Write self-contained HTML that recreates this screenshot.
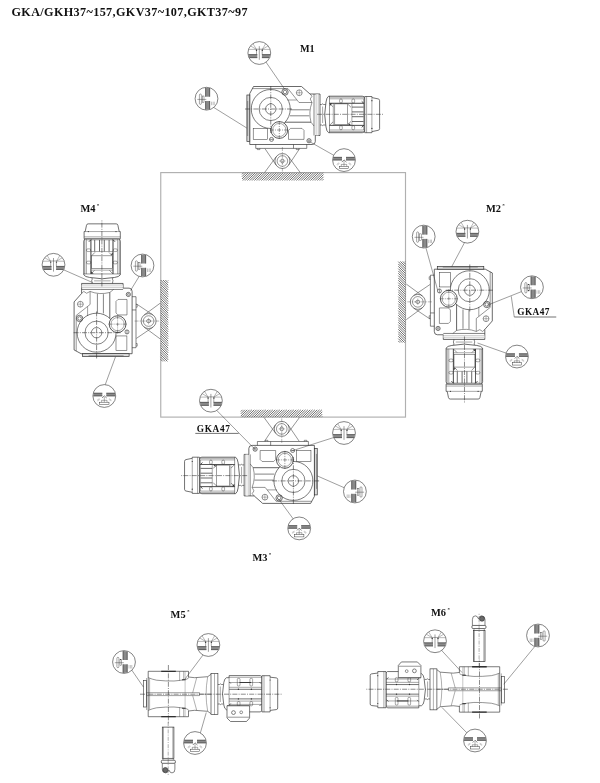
<!DOCTYPE html>
<html><head><meta charset="utf-8"><title>Mounting positions</title>
<style>
html,body{margin:0;padding:0;background:#fff;}
body{width:600px;height:783px;overflow:hidden;font-family:"Liberation Serif",serif;}
svg{display:block;filter:grayscale(1);}
</style></head>
<body>
<svg width="600" height="783" viewBox="0 0 600 783">
<rect width="600" height="783" fill="#fff"/>
<defs>

<g id="gm" fill="none" stroke="#303030" stroke-width="0.51" stroke-linecap="butt">
  <!-- housing -->
  <path d="M249.75 93.5L253.5 86.5H301.5L310 94H320V135.5H315.3V141.5Q315.3 144.5 312 144.5H249.75Z" stroke-width="0.722" fill="#fff"/>
  <rect x="246.9" y="95" width="2.85" height="46.5" stroke-width="0.68" fill="#ddd"/>
  <path d="M247.7 101V136" stroke-width="0.425"/>
  <path d="M252.5 88.6H288L299 102.5H312"/>
  <path d="M287.5 100H296.8" stroke-width="0.468"/>
  <rect x="316" y="94" width="2.5" height="41.5" fill="#f0f0f0" stroke="#8a8a8a" stroke-width="0.34"/>
  <path d="M314 94V135.5" stroke-width="0.595"/>
  <!-- neck lines -->
  <path d="M290.5 109.8H309.7M290 115.8H309.3" stroke-width="0.595"/>
  <path d="M285 122.2H311" stroke-width="0.765"/>
  <path d="M310 94L312 96.2L310.2 99L312 102.5Q308.3 112 311 122.2L314 126" stroke-width="0.51"/>
  <!-- main circles -->
  <circle cx="270.75" cy="109" r="19.5" stroke-width="0.637"/>
  <circle cx="270.75" cy="109" r="11.6" stroke-width="0.595"/>
  <path d="M270.75 103.3Q272.3 103.9 274.4 105.3A5.2 5.2 0 1 1 267.1 105.3Q269.2 103.9 270.75 103.3Z" stroke-width="0.595"/>
  <!-- windows -->
  <rect x="253.2" y="128.4" width="14.3" height="10.9" stroke-width="0.51"/>
  <path d="M290.5 128.4H302L304 130.4V139.4H288.5V130.4Z" stroke-width="0.51"/>
  <!-- small circle -->
  <circle cx="279.3" cy="130" r="8.4" fill="#fff" stroke-width="0.807"/>
  <circle cx="279.3" cy="130" r="6.6" stroke-width="0.425"/>
  <!-- plugs -->
  <circle cx="285" cy="92" r="3.2" stroke-width="0.68"/><circle cx="285" cy="92" r="1.8" stroke-width="0.595"/>
  <circle cx="299.25" cy="92.75" r="2.9" stroke-width="0.51"/><path d="M296.3 92.75H302.2M299.25 89.8V95.7" stroke-width="0.34"/>
  <circle cx="309" cy="140.75" r="2.1" stroke-width="0.68"/><circle cx="309" cy="140.75" r="0.9" stroke-width="0.51"/>
  <circle cx="271.5" cy="139.4" r="2" stroke-width="0.595"/><path d="M269.5 139.4H273.5" stroke-width="0.51"/>
  <!-- centre lines -->
  <path d="M245 109H292M270.75 86V133" stroke-width="0.578" stroke-dasharray="5 1.2 1 1.2"/>
  <path d="M270 130H289M279.3 121V139" stroke-width="0.468" stroke-dasharray="4 1 1 1"/>
  <!-- base plate -->
  <path d="M255.75 144.5V148.4H306.75V144.5M293.5 144.5V148.4" stroke-width="0.595"/>
  <path d="M257.3 148.4v1.2h2.6v-1.2M296.3 148.4v1.2h2.6v-1.2" stroke-width="0.51"/>
  <!-- torque arm -->
  <path d="M265.00 148.70L276.19 165.21M299.60 148.70L288.64 165.16M264.60 172.50L276.36 156.55M300.20 172.50L288.44 156.55" stroke-width="0.51"/>
  <circle cx="282.4" cy="161" r="7.5" stroke-width="0.595"/>
  <circle cx="282.4" cy="161" r="5.3" fill="#fff" stroke-width="0.51"/>
  <ellipse cx="282.4" cy="161" rx="1.6" ry="2.1" stroke-width="0.51"/>
  <path d="M282.4 147V171.5" stroke-width="0.34" stroke-dasharray="4 1 1 1"/>
  <path d="M279 161H285.5" stroke-width="0.297"/>
  <!-- adapter between gearbox & motor -->
  <path d="M320 104.5h1.6q0.8 -1.2 2 0h2.6M320 125h1.6q0.8 1.2 2 0h2.6" stroke-width="0.595"/>
  <path d="M322.6 106.5V123" stroke-width="0.425"/>
  <!-- motor body -->
  <path d="M328.6 96.2H362.3Q364.9 96.2 364.9 99V129.9Q364.9 132.7 362.3 132.7H328.6Q326.6 131.5 326 127A60 60 0 0 1 326 102Q326.6 97.4 328.6 96.2Z" fill="#fff" stroke-width="0.722"/>
  <path d="M329.5 97.2H364M329.5 98.8H364.7M329.5 103.3H363.6M329.5 125.4H363.6M329.5 130H364.7M329.5 131.6H364" stroke-width="0.425"/>
  <path d="M329.5 96V132.7" stroke-width="0.51"/>
  <path d="M329.5 103.3H363.6M329.5 125.4H363.6" stroke-width="0.68"/>
  <rect x="334.8" y="103.9" width="12.8" height="20.9" stroke-width="0.468"/>
  <path d="M333.3 103.3V125.4M351.9 103.3V125.4M363.6 98.8V130" stroke-width="0.425"/>
  <path d="M352 107.1H363.5M352 111.9H363.5M352 116.7H363.5M352 121.5H363.5" stroke-width="0.722"/>
  <path d="M329.7 103.5l3.4 3.4M329.7 125.2l3.4 -3.4M347.7 104l3.3 3.3M347.7 124.7l3.3 -3.3" stroke-width="0.51"/>
  <path d="M330 103.6l2 0l-2 2zM348.8 123.5l1.8 1.5l-1.8 0z" fill="#303030" stroke-width="0.34"/>
  <rect x="339.6" y="98.9" width="2.7" height="4.2" rx="1.3" stroke-width="0.425"/>
  <rect x="351.9" y="98.9" width="2.7" height="4.2" rx="1.3" stroke-width="0.425"/>
  <rect x="339.6" y="125.6" width="2.7" height="4.2" rx="1.3" stroke-width="0.425"/>
  <rect x="351.9" y="125.6" width="2.7" height="4.2" rx="1.3" stroke-width="0.425"/>
  <path d="M361.7 101.3l2.3 2.3M361.7 127.4l2.3 -2.3" stroke-width="0.85"/>
  <!-- fan cover -->
  <path d="M364.7 96.5H371.9V97.6L378.2 98.9Q379.6 99.2 379.6 100.6V128.6Q379.6 130 378.2 130.3L371.9 131.6V132.7H364.7Z" fill="#fff" stroke-width="0.68"/>
  <path d="M371.9 97.6V131.6M366.6 96.5V132.7" stroke-width="0.425"/>
  <circle cx="371.9" cy="100.7" r="0.6" fill="#303030" stroke="none"/><circle cx="371.9" cy="128.4" r="0.6" fill="#303030" stroke="none"/>
  <path d="M317 114.3H384" stroke-width="0.552" stroke-dasharray="5 1.2 1 1.2"/>
</g>


<clipPath id="cc"><circle r="11.1"/></clipPath>
<g id="brt" fill="none" stroke="#303030" stroke-width="0.425">
  <circle r="11.4" fill="#fff" stroke-width="0.595"/>
  <g clip-path="url(#cc)">
    <rect x="-11.2" y="1.3" width="9.2" height="3.7" fill="#8a8a8a" stroke="none"/><path d="M-11.2 1.6h9.2M-11.2 4.7h9.2" stroke="#3a3a3a" stroke-width="0.595"/><rect x="2.6" y="1.3" width="9" height="3.7" fill="#8a8a8a" stroke="none"/><path d="M2.6 1.6h9M2.6 4.7h9" stroke="#3a3a3a" stroke-width="0.595"/>
    <path d="M-10.8 -3.6H-2.8M2.9 -3.6H10.8M-2.8 -3.6L-9.5 -7.5M-2.8 -3.6L-6.5 -9.5M2.9 -3.6L9.5 -7.5M2.9 -3.6L6.5 -9.5" stroke-width="0.383" stroke="#444"/>
    <path d="M-2.8 -2.8V1.3M2.9 -2.8V1.3M-2.8 -3.8H2.9" stroke-width="0.425"/>
    <circle cx="-2.8" cy="-2.7" r="0.7" fill="#303030" stroke="none"/><circle cx="3" cy="-2.7" r="0.7" fill="#303030" stroke="none"/>
    <path d="M0 -6.8V6.8" stroke-width="0.468"/>
  </g>
</g>
<g id="lvl" fill="none" stroke="#303030" stroke-width="0.425">
  <circle r="11.4" fill="#fff" stroke-width="0.595"/>
  <g clip-path="url(#cc)">
    <rect x="-1.2" y="-11.2" width="4.7" height="9.2" fill="#8a8a8a" stroke="none"/><path d="M-0.8999999999999999 -11.2v9.2M3.2 -11.2v9.2" stroke="#3a3a3a" stroke-width="0.595"/><rect x="-1.2" y="2.3" width="4.7" height="9" fill="#8a8a8a" stroke="none"/><path d="M-0.8999999999999999 2.3v9M3.2 2.3v9" stroke="#3a3a3a" stroke-width="0.595"/>
    <rect x="-7.1" y="-4.7" width="2" height="10.4" rx="1" stroke-width="0.425"/>
    <path d="M-9.2 0.7H-0.2" stroke-width="0.425"/>
    <rect x="-4" y="-2.7" width="1.5" height="6.4" stroke-width="0.383"/>
    <path d="M5 3V6.5M6.6 3V6.5M7.8 3V6.5" stroke-width="0.383" stroke="#666"/>
  </g>
</g>
<g id="drn" fill="none" stroke="#303030" stroke-width="0.425">
  <circle r="11.4" fill="#fff" stroke-width="0.595"/>
  <g clip-path="url(#cc)">
    <rect x="-11.2" y="-3.1" width="9.2" height="3.3" fill="#8a8a8a" stroke="none"/><path d="M-11.2 -2.8000000000000003h9.2M-11.2 -0.10000000000000026h9.2" stroke="#3a3a3a" stroke-width="0.595"/><rect x="2" y="-3.1" width="9.2" height="3.3" fill="#8a8a8a" stroke="none"/><path d="M2 -2.8000000000000003h9.2M2 -0.10000000000000026h9.2" stroke="#3a3a3a" stroke-width="0.595"/>
    <path d="M-2.2 2L0 -0.2L2.4 2" stroke-width="0.595"/>
    <path d="M-2.7 4.2V6.2M2.7 4.2V6.2M-2.7 4.3H2.7M0 1V6.2" stroke-width="0.383"/>
    <rect x="-4.7" y="6.2" width="9.4" height="2.3" stroke-width="0.468"/>
    <path d="M-7.3 4.3L-4.9 2.6M-6.8 5L-4.5 3.4M7.3 4.3L4.9 2.6M6.8 5L4.5 3.4" stroke-width="0.34" stroke="#666"/>
  </g>
</g>


<g id="gm5" fill="none" stroke="#303030" stroke-width="0.51">
  <!-- gearbox body -->
  <path d="M188.5 677.5V671.3H148.2V716.7H188.5V710.5" fill="#fff" stroke-width="0.637"/>
  <rect x="143.4" y="680.5" width="3.2" height="26.5" stroke-width="0.595"/>
  <path d="M146.6 678V710" stroke-width="0.425"/>
  <path d="M148.2 677.6Q152 679.3 156.5 680.2Q166 681.2 174 681Q181 680.5 186.5 679.2L188.5 678.2M148.2 710.4Q152 708.7 156.5 707.8Q166 706.8 174 707Q181 707.5 186.5 708.8L188.5 709.8" stroke-width="0.51"/>
  <path d="M149.6 678.4V709.6" stroke-width="0.383"/>
  <path d="M146.6 692.7H199.5V695.6H146.6" stroke-width="0.468"/>
  <path d="M199.5 694.2H211" stroke-width="0.425"/>
  <path d="M161.2 671.3H175.8M161.2 716.7H175.8" stroke-width="1.27"/>
  <path d="M179.6 671.3V680.6M179.6 716.7V707.4M183.7 671.3V680M183.7 716.7V708" stroke-width="0.383"/>
  <path d="M185.1 671.3V716.7" stroke-width="0.425" stroke="#777"/>
  <path d="M182 679.8h3.6M182 708.2h3.6" stroke-width="0.935"/>
  <!-- neck -->
  <path d="M188.5 677L194.7 677.7L207.7 676.7L211 674.3M188.5 711L194.7 710.3L207.7 711.3L211 713.7" stroke-width="0.595"/>
  <path d="M196.7 677.7L192.7 692.7M192.7 695.6L196.7 710.3" stroke-width="0.383"/>
  <path d="M207.7 676.7Q204.5 694.2 207.7 711.3" stroke-width="0.383"/>
  <!-- flange -->
  <rect x="211" y="673.6" width="6.9" height="41" fill="#fff" stroke-width="0.637"/>
  <path d="M214.5 673.6V714.6" stroke-width="0.383"/>
  <!-- adapter -->
  <path d="M217.9 684.5h1.6q0.8 -1.2 2 0h1.8M217.9 704h1.6q0.8 1.2 2 0h1.8" stroke-width="0.595"/>
  <path d="M220.3 686.5V702" stroke-width="0.425"/>
  <!-- motor -->
  <path d="M226.5 677.7H229.1V675.6H260.5L261.9 677V710.5L260.5 711.9H229.1V709.8H226.5Q224.4 709 223.8 705A50 50 0 0 1 223.8 682.5Q224.4 678.5 226.5 677.7Z" fill="#fff" stroke-width="0.68"/>
  <path d="M229.1 677.7V709.8" stroke-width="0.468"/>
  <path d="M229.1 677.3H261.9M229.1 682.5H261.9M229.1 687.3H261.9M229.1 701.1H261.9M229.1 704.4H261.9" stroke-width="0.425"/>
  <path d="M229.1 689.3H261.9M229.1 698.9H261.9" stroke-width="0.68"/>
  <path d="M239.5 682.5H251.2" stroke-width="0.935"/>
  <rect x="237.3" y="678.4" width="2.7" height="7.6" rx="1" stroke-width="0.425"/>
  <rect x="249.9" y="678.4" width="2.7" height="7.6" rx="1" stroke-width="0.425"/>
  <rect x="237.3" y="701.6" width="2.7" height="4.2" rx="1" stroke-width="0.425"/>
  <rect x="249.9" y="701.6" width="2.7" height="4.2" rx="1" stroke-width="0.425"/>
  <circle cx="238.4" cy="689.3" r="0.7" fill="#303030" stroke="none"/><circle cx="251.4" cy="689.3" r="0.7" fill="#303030" stroke="none"/>
  <circle cx="238.4" cy="698.9" r="0.7" fill="#303030" stroke="none"/><circle cx="251.4" cy="698.9" r="0.7" fill="#303030" stroke="none"/>
  <path d="M229.3 682l1.5 1.5M229.3 705l1.5 -1.5M259.5 682l1.8 1.8M259.5 706l1.8 -1.8" stroke-width="0.68"/>
  <!-- terminal box -->
  <path d="M227 705.7V718L230.5 721.5H246.5L249.6 718V705.7Z" fill="#fff" stroke-width="0.637"/>
  <path d="M227 705.7H249.6" stroke-width="0.425"/>
  <path d="M227.5 717.2H249.2" stroke-width="0.765" stroke="#777"/>
  <circle cx="233.5" cy="712.6" r="1.9" stroke-width="0.595"/><circle cx="241.2" cy="712.3" r="1.4" stroke-width="0.51"/>
  <!-- fan cover -->
  <path d="M261.9 675.7H270.1V677.2L276.3 677.9Q277.7 678.1 277.7 679.5V708Q277.7 709.4 276.3 709.6L270.1 710.4V711.9H261.9Z" fill="#fff" stroke-width="0.68"/>
  <path d="M270.1 677.2V710.4M264 675.7V711.9" stroke-width="0.425"/>
  <circle cx="270.1" cy="680" r="0.55" fill="#303030" stroke="none"/><circle cx="270.1" cy="707.8" r="0.55" fill="#303030" stroke="none"/>
  <!-- centre lines -->
  <path d="M140 694.2H282" stroke-width="0.552" stroke-dasharray="5 1.2 1 1.2"/>
  <path d="M168.4 665V724" stroke-width="0.552" stroke-dasharray="5 1.2 1 1.2"/>
</g>


<g id="shaft" fill="none" stroke="#303030" stroke-width="0.51">
  <rect x="162.3" y="727.1" width="11.6" height="31.2" fill="#fff" stroke-width="0.68"/>
  <path d="M163.5 727.1V758.3M172.8 727.1V758.3" stroke-width="0.383"/>
  <path d="M163 758.3V760.2M173.3 758.3V760.2" stroke-width="0.425"/>
  <rect x="161.3" y="760.2" width="14.1" height="3.1" rx="1.2" fill="#fff" stroke-width="0.722"/>
  <path d="M162.3 763.3V769.2Q162.4 772.9 165.6 772.9Q168 772.9 168.9 770Q169.8 772.9 172 772.9Q174.9 772.9 174.9 769.2V763.3" stroke-width="0.595"/>
  <circle cx="165.3" cy="770" r="2.5" fill="#6a6a6a" stroke-width="0.595"/>
  <path d="M168.2 722V775" stroke-width="0.383" stroke-dasharray="4 1.2 1 1.2"/>
</g>

</defs>
<rect x="160.75" y="172.6" width="244.75" height="244.5" fill="none" stroke="#b0b0b0" style="stroke-width:1.15"/>
<path d="M242.00 174.33L243.73 172.60M242.00 176.67L246.07 172.60M242.00 179.00L248.40 172.60M242.83 180.50L250.73 172.60M245.17 180.50L253.07 172.60M247.50 180.50L255.40 172.60M249.83 180.50L257.73 172.60M252.16 180.50L260.06 172.60M254.50 180.50L262.40 172.60M256.83 180.50L264.73 172.60M259.16 180.50L267.06 172.60M261.50 180.50L269.40 172.60M263.83 180.50L271.73 172.60M266.16 180.50L274.06 172.60M268.50 180.50L276.40 172.60M270.83 180.50L278.73 172.60M273.16 180.50L281.06 172.60M275.49 180.50L283.39 172.60M277.83 180.50L285.73 172.60M280.16 180.50L288.06 172.60M282.49 180.50L290.39 172.60M284.83 180.50L292.73 172.60M287.16 180.50L295.06 172.60M289.49 180.50L297.39 172.60M291.83 180.50L299.73 172.60M294.16 180.50L302.06 172.60M296.49 180.50L304.39 172.60M298.82 180.50L306.72 172.60M301.16 180.50L309.06 172.60M303.49 180.50L311.39 172.60M305.82 180.50L313.72 172.60M308.16 180.50L316.06 172.60M310.49 180.50L318.39 172.60M312.82 180.50L320.72 172.60M315.16 180.50L323.06 172.60M317.49 180.50L323.50 174.49M319.82 180.50L323.50 176.82M322.15 180.50L323.50 179.15" stroke="#484848" style="stroke-width:0.78" fill="none"/>
<path d="M160.60 359.27L162.73 361.40M160.60 356.93L165.07 361.40M160.60 354.60L167.40 361.40M160.60 352.27L168.20 359.87M160.60 349.94L168.20 357.53M160.60 347.60L168.20 355.20M160.60 345.27L168.20 352.87M160.60 342.94L168.20 350.54M160.60 340.60L168.20 348.20M160.60 338.27L168.20 345.87M160.60 335.94L168.20 343.54M160.60 333.60L168.20 341.20M160.60 331.27L168.20 338.87M160.60 328.94L168.20 336.54M160.60 326.61L168.20 334.21M160.60 324.27L168.20 331.87M160.60 321.94L168.20 329.54M160.60 319.61L168.20 327.21M160.60 317.27L168.20 324.87M160.60 314.94L168.20 322.54M160.60 312.61L168.20 320.21M160.60 310.27L168.20 317.87M160.60 307.94L168.20 315.54M160.60 305.61L168.20 313.21M160.60 303.28L168.20 310.88M160.60 300.94L168.20 308.54M160.60 298.61L168.20 306.21M160.60 296.28L168.20 303.88M160.60 293.94L168.20 301.54M160.60 291.61L168.20 299.21M160.60 289.28L168.20 296.88M160.60 286.94L168.20 294.54M160.60 284.61L168.20 292.21M160.60 282.28L168.20 289.88M160.65 280.00L168.20 287.55M162.99 280.00L168.20 285.21M165.32 280.00L168.20 282.88M167.65 280.00L168.20 280.55" stroke="#484848" style="stroke-width:0.78" fill="none"/>
<path d="M398.30 340.97L399.93 342.60M398.30 338.63L402.27 342.60M398.30 336.30L404.60 342.60M398.30 333.97L405.50 341.17M398.30 331.63L405.50 338.84M398.30 329.30L405.50 336.50M398.30 326.97L405.50 334.17M398.30 324.64L405.50 331.84M398.30 322.30L405.50 329.50M398.30 319.97L405.50 327.17M398.30 317.64L405.50 324.84M398.30 315.30L405.50 322.50M398.30 312.97L405.50 320.17M398.30 310.64L405.50 317.84M398.30 308.31L405.50 315.50M398.30 305.97L405.50 313.17M398.30 303.64L405.50 310.84M398.30 301.31L405.50 308.51M398.30 298.97L405.50 306.17M398.30 296.64L405.50 303.84M398.30 294.31L405.50 301.51M398.30 291.97L405.50 299.17M398.30 289.64L405.50 296.84M398.30 287.31L405.50 294.51M398.30 284.98L405.50 292.18M398.30 282.64L405.50 289.84M398.30 280.31L405.50 287.51M398.30 277.98L405.50 285.18M398.30 275.64L405.50 282.84M398.30 273.31L405.50 280.51M398.30 270.98L405.50 278.18M398.30 268.64L405.50 275.84M398.30 266.31L405.50 273.51M398.30 263.98L405.50 271.18M398.30 261.65L405.50 268.85M400.39 261.40L405.50 266.51M402.72 261.40L405.50 264.18M405.05 261.40L405.50 261.85" stroke="#484848" style="stroke-width:0.78" fill="none"/>
<path d="M240.80 411.53L242.53 409.80M240.80 413.87L244.87 409.80M240.80 416.20L247.20 409.80M242.13 417.20L249.53 409.80M244.46 417.20L251.86 409.80M246.80 417.20L254.20 409.80M249.13 417.20L256.53 409.80M251.46 417.20L258.86 409.80M253.80 417.20L261.20 409.80M256.13 417.20L263.53 409.80M258.46 417.20L265.86 409.80M260.80 417.20L268.20 409.80M263.13 417.20L270.53 409.80M265.46 417.20L272.86 409.80M267.79 417.20L275.19 409.80M270.13 417.20L277.53 409.80M272.46 417.20L279.86 409.80M274.79 417.20L282.19 409.80M277.13 417.20L284.53 409.80M279.46 417.20L286.86 409.80M281.79 417.20L289.19 409.80M284.13 417.20L291.53 409.80M286.46 417.20L293.86 409.80M288.79 417.20L296.19 409.80M291.12 417.20L298.52 409.80M293.46 417.20L300.86 409.80M295.79 417.20L303.19 409.80M298.12 417.20L305.52 409.80M300.46 417.20L307.86 409.80M302.79 417.20L310.19 409.80M305.12 417.20L312.52 409.80M307.46 417.20L314.86 409.80M309.79 417.20L317.19 409.80M312.12 417.20L319.52 409.80M314.45 417.20L321.85 409.80M316.79 417.20L322.20 411.79M319.12 417.20L322.20 414.12M321.45 417.20L322.20 416.45" stroke="#484848" style="stroke-width:0.78" fill="none"/>
<use href="#gm"/>
<use href="#gm" transform="translate(96.6 332.7) rotate(-90) translate(-270.75 -109)"/>
<use href="#gm" transform="translate(469.8 290.2) rotate(90) translate(-270.75 -109)"/>
<use href="#gm" transform="translate(293.4 480.9) rotate(180) translate(-270.75 -109)"/>
<use href="#gm5"/>
<use href="#shaft"/>
<use href="#shaft" transform="translate(-0.6 5.3) translate(479.5 689.25) rotate(180) translate(-168.4 -694.2)"/>
<use href="#gm5" transform="translate(479.5 689.25) rotate(180) translate(-168.4 -694.2)"/>
<path d="M264.4 59.8L284.5 89" stroke="#303030" stroke-width="0.468" fill="none"/>
<path d="M213 107L246.75 128" stroke="#303030" stroke-width="0.468" fill="none"/>
<path d="M335 156L310.8 142.3" stroke="#303030" stroke-width="0.468" fill="none"/>
<path d="M62 269.1L92.5 282.5" stroke="#303030" stroke-width="0.468" fill="none"/>
<path d="M140 275L130.5 290.5" stroke="#303030" stroke-width="0.468" fill="none"/>
<path d="M105 385.3L115.5 356.8" stroke="#303030" stroke-width="0.468" fill="none"/>
<path d="M425.7 247L437.7 290.3" stroke="#303030" stroke-width="0.468" fill="none"/>
<path d="M465 241.7L451.7 266.7" stroke="#303030" stroke-width="0.468" fill="none"/>
<path d="M523 291L487.25 305.25" stroke="#303030" stroke-width="0.468" fill="none"/>
<path d="M508 353.8L477.5 343" stroke="#303030" stroke-width="0.468" fill="none"/>
<path d="M216.5 410.2L254.7 449" stroke="#303030" stroke-width="0.468" fill="none"/>
<path d="M335 437.1L291.9 450.9" stroke="#303030" stroke-width="0.468" fill="none"/>
<path d="M346 488.5L317.25 475.9" stroke="#303030" stroke-width="0.468" fill="none"/>
<path d="M293.5 519.3L278.4 498.65" stroke="#303030" stroke-width="0.468" fill="none"/>
<path d="M131 669L143.4 687" stroke="#303030" stroke-width="0.468" fill="none"/>
<path d="M204 653.7L185 679" stroke="#303030" stroke-width="0.468" fill="none"/>
<path d="M200 734.2L206.25 712.5" stroke="#303030" stroke-width="0.468" fill="none"/>
<path d="M440.3 649L462 672.5" stroke="#303030" stroke-width="0.468" fill="none"/>
<path d="M536 645L503.75 684.25" stroke="#303030" stroke-width="0.468" fill="none"/>
<path d="M468 734L442 707.5" stroke="#303030" stroke-width="0.468" fill="none"/>
<use href="#brt" transform="translate(259.3 53)"/>
<use href="#lvl" transform="translate(206.5 98.7)"/>
<use href="#drn" transform="translate(344 160.1)"/>
<use href="#brt" transform="translate(53.5 264.8)"/>
<use href="#lvl" transform="translate(142.5 265.5)"/>
<use href="#drn" transform="translate(104.3 396)"/>
<use href="#lvl" transform="translate(423.7 236.6)"/>
<use href="#brt" transform="translate(467.4 231.7)"/>
<use href="#lvl" transform="translate(531.95 287.25)"/>
<use href="#drn" transform="translate(516.95 356.55)"/>
<use href="#brt" transform="translate(210.9 400.7)"/>
<use href="#brt" transform="translate(344 433)"/>
<use href="#lvl" transform="translate(354.9 491.5) scale(-1 1)"/>
<use href="#drn" transform="translate(299.2 528.4)"/>
<use href="#lvl" transform="translate(124 662)"/>
<use href="#brt" transform="translate(208.4 645)"/>
<use href="#drn" transform="translate(195 743)"/>
<use href="#brt" transform="translate(435 641.25)"/>
<use href="#lvl" transform="translate(538 635.5) scale(-1 1)"/>
<use href="#drn" transform="translate(475 740.5)"/>
<path d="M511.25 296.25L514.25 317" stroke="#303030" stroke-width="0.468" fill="none"/>
<path d="M514.25 317L556.25 317" stroke="#303030" stroke-width="0.68" fill="none"/>
<path d="M195.3 433.4L238.7 433.4" stroke="#303030" stroke-width="0.68" fill="none"/>

<g font-family="Liberation Serif, serif" font-weight="bold" fill="#111" stroke="none" opacity="0.999">
<text x="11.5" y="16.2" font-size="12.2" textLength="236" lengthAdjust="spacing">GKA/GKH37~157,GKV37~107,GKT37~97</text>
<text x="300" y="51.7" font-size="10.2">M1</text>
<text x="486" y="211.9" font-size="10.4">M2</text><text x="502.2" y="206.8" font-size="5">*</text>
<text x="80.4" y="211.7" font-size="10.4">M4</text><text x="96.8" y="206.6" font-size="5">*</text>
<text x="252.5" y="561.3" font-size="10.4">M3</text><text x="268.7" y="556.1" font-size="5">*</text>
<text x="170.6" y="617.8" font-size="10.4">M5</text><text x="186.9" y="612.7" font-size="5">*</text>
<text x="431" y="615.6" font-size="10.4">M6</text><text x="447.4" y="610.5" font-size="5">*</text>
<text x="517.25" y="315" font-size="9.3" textLength="32.2" lengthAdjust="spacing">GKA47</text>
<text x="196.7" y="432.3" font-size="9.3" textLength="33.3" lengthAdjust="spacing">GKA47</text>
</g>

</svg>
</body></html>
